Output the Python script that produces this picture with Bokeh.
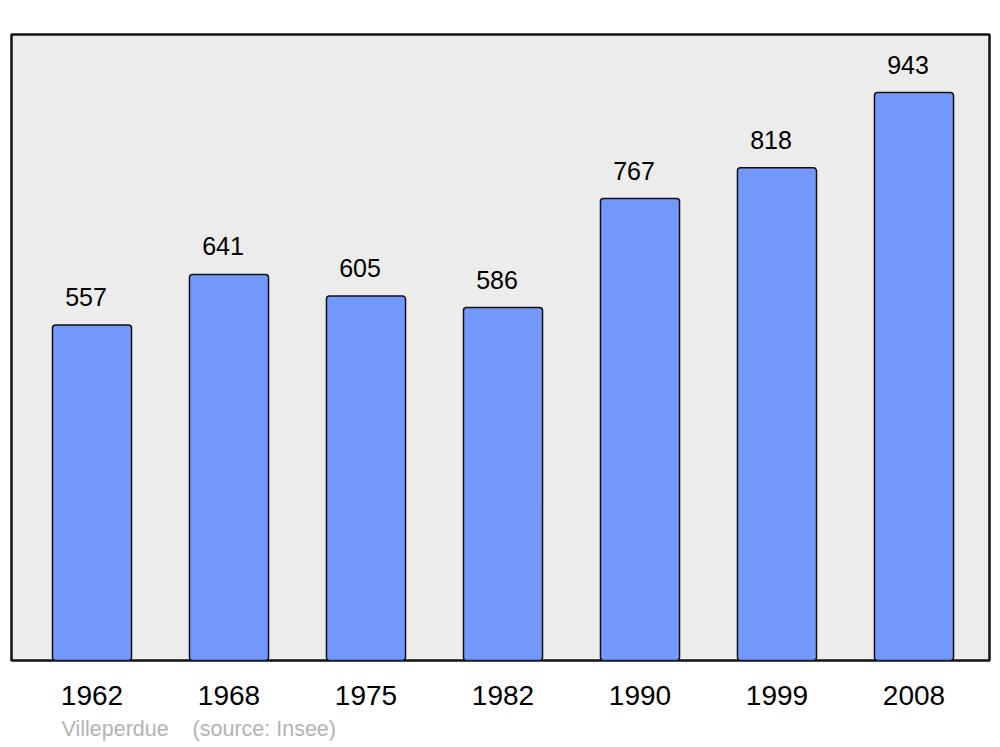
from bokeh.plotting import figure
from bokeh.models import ColumnDataSource, FixedTicker, LabelSet, Title
from bokeh.core.properties import value
from bokeh.embed import file_html
from bokeh.resources import INLINE

years = ["1962", "1968", "1975", "1982", "1990", "1999", "2008"]
population = [557, 641, 605, 586, 767, 818, 943]
caption = "Villeperdue\u00a0\u00a0\u00a0\u00a0(source: Insee)"

idx = list(range(len(years)))
src = ColumnDataSource(dict(x=idx, y=population, lab=[str(v) for v in population]))

p = figure(frame_width=978, frame_height=626, output_backend="svg", toolbar_location=None,
           x_range=(-0.5876, 6.5511), y_range=(0, 1039.3),
           min_border_left=11, min_border_right=3, min_border_top=34, min_border_bottom=80)
p.background_fill_color = "#ececec"
p.border_fill_color = "white"
p.outline_line_color = "#111111"
p.outline_line_width = 2.5
p.grid.visible = False
p.yaxis.visible = False

p.vbar(x="x", top="y", bottom=0, width=0.577, source=src,
       fill_color="#7399ff", line_color="#111111", line_width=1.5, border_radius=3)

labels = LabelSet(x="x", y="y", text="lab", source=src, x_offset=-6, y_offset=19,
                  text_align="center", text_baseline="bottom",
                  text_font=value("Liberation Sans"), text_font_size="25px", text_color="black")
p.add_layout(labels)

ax = p.xaxis[0]
ax.ticker = FixedTicker(ticks=idx)
ax.major_label_overrides = {i: y for i, y in zip(idx, years)}
ax.axis_line_color = None
ax.major_tick_line_color = None
ax.minor_tick_line_color = None
ax.major_label_text_font = "Liberation Sans"
ax.major_label_text_font_size = "28px"
ax.major_label_text_color = "black"
ax.major_label_standoff = 19

cap = Title(text=caption, align="left", offset=50, text_font="Liberation Sans",
            text_font_size="21.5px", text_font_style="normal", text_color="#b3b3b3",
            standoff=14)
p.add_layout(cap, "below")

open("out.html", "w").write(file_html(p, INLINE))
